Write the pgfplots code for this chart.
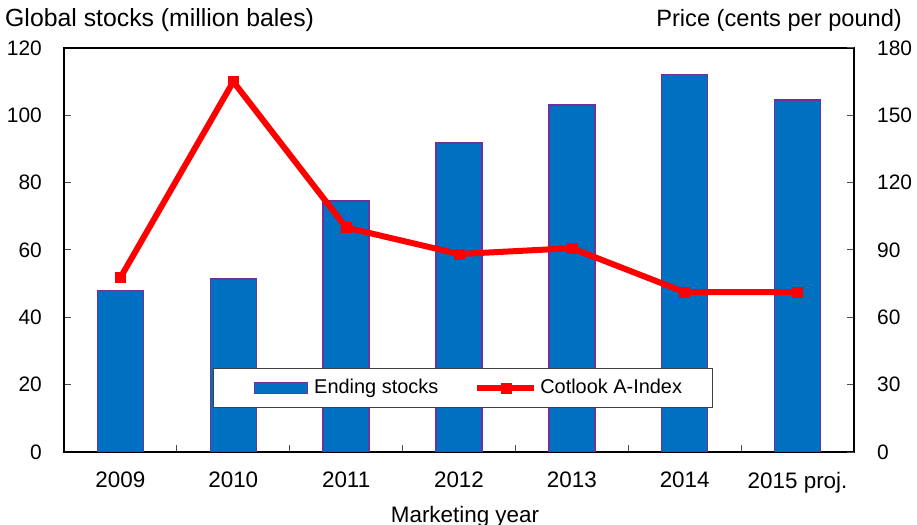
\documentclass[border=0pt]{standalone}
\usepackage{fontspec}
\setmainfont{Liberation Sans}
\usepackage{pgfplots}
\pgfplotsset{compat=1.18}
\definecolor{barblue}{HTML}{0070C0}
\definecolor{barpurple}{HTML}{7030A0}
\definecolor{linered}{HTML}{FF0000}

\begin{document}
\begin{tikzpicture}
\useasboundingbox (-64bp,-73bp) rectangle ++(917bp,525bp);
\pgfplotsset{
  common/.style={
    at={(0,0)}, anchor=south west,
    scale only axis, width=790bp, height=404bp,
    xmin=-0.5, xmax=6.5,
    /pgf/number format/assume math mode=true,
    tick label style={font=\fontsize{21}{25}\selectfont, inner sep=0pt},
    major tick length=7bp, minor tick length=7bp,
    tick align=inside,
    every tick/.style={black!70, line width=1bp},
    axis line style={line width=2bp, black},
  }
}
\begin{axis}[common, name=main,
  ymin=0, ymax=120, ytick={0,20,...,120},
  ytick pos=left, xtick pos=bottom,
  xtick={0,...,6},
  xticklabels={2009,2010,2011,2012,2013,2014,2015 proj.},
  xticklabel style={font=\fontsize{22.5}{27}\selectfont},
  minor xtick={0.5,1.5,...,5.5},
  major x tick style={draw=none},
  xticklabel shift=20bp,
  yticklabel shift=22bp,
]
\addplot[ybar, bar width=46bp, fill=barblue, draw=barpurple, line width=1.5bp]
  coordinates {(0,47.9) (1,51.4) (2,74.5) (3,91.8) (4,103.1) (5,112.2) (6,104.5)};
\end{axis}

\begin{axis}[common,
  ymin=0, ymax=180, ytick={0,30,...,180},
  axis y line*=right, axis x line=none,
  yticklabel shift=23bp,
  legend columns=2,
  legend cell align=left,
  legend style={at={(0.1886,0.1089)}, anchor=south west,
    draw=black!75, line width=1bp, fill=white,
    inner xsep=30bp, inner ysep=10bp,
    font=\fontsize{20}{24}\selectfont,
    nodes={inner sep=0pt, text height=14.5bp, text depth=4.3bp},
    /tikz/column 1/.style={column sep=6bp},
    /tikz/column 2/.style={column sep=36bp},
    /tikz/column 3/.style={column sep=3bp}},
]
\addlegendimage{legend image code/.code={\path[draw=none, fill=none] (-11bp,0bp) rectangle (0bp,0.1bp); \draw[fill=barblue, draw=barpurple, line width=1.5bp] (0bp,-5.5bp) rectangle (53bp,5.5bp);}}
\addlegendentry{Ending stocks}
\addplot[linered, line width=6bp, mark=square*, mark size=5bp,
  mark options={fill=linered, draw=linered, line width=0.5bp},
  legend image code/.code={\draw[linered, line width=6bp, mark=square*, mark size=5bp, mark options={fill=linered, draw=linered, line width=0.5bp}, mark repeat=2, mark phase=2] plot coordinates {(0bp,0bp) (28.5bp,0bp) (57bp,0bp)};}]
  coordinates {(0,77.7) (1,165) (2,100) (3,88.2) (4,90.8) (5,71.2) (6,71.2)};
\addlegendentry{Cotlook A-Index}
\end{axis}

\node[anchor=base west, inner sep=0pt, font=\fontsize{24.9}{29}\selectfont]
  at ([xshift=-59bp, yshift=21bp]main.north west) {Global stocks (million bales)};
\node[anchor=base east, inner sep=0pt, font=\fontsize{23.7}{28}\selectfont]
  at ([xshift=48bp, yshift=21bp]main.north east) {Price (cents per pound)};
\node[anchor=base, inner sep=0pt, font=\fontsize{22.5}{27}\selectfont]
  at ([xshift=6bp, yshift=-70bp]main.south) {Marketing year};
\end{tikzpicture}
\end{document}
